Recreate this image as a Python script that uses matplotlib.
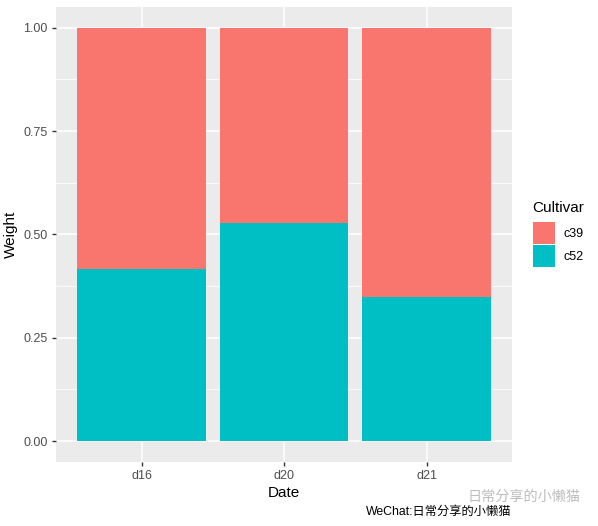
import numpy as np
import matplotlib.pyplot as plt
from matplotlib.patches import Rectangle

# ── Data ─────────────────────────────────────────────
dates = ['d16', 'd20', 'd21']
cultivars = ['c39', 'c52']
c52_weight = [0.417, 0.528, 0.349]
c39_weight = [1 - v for v in c52_weight]
colors = {'c39': '#F8766D', 'c52': '#00BFC4'}

plt.rcParams['font.family'] = ['Liberation Sans', 'Noto Sans CJK SC', 'DejaVu Sans']

W, H = 598, 526
fig = plt.figure(figsize=(W / 100, H / 100), dpi=100)
ax = fig.add_axes([56 / W, (H - 461.7) / H, 456 / W, 454.7 / H])

x = np.arange(1, len(dates) + 1)
ax.bar(x, c52_weight, width=0.9, color=colors['c52'], zorder=3)
ax.bar(x, c39_weight, width=0.9, bottom=c52_weight, color=colors['c39'], zorder=3)

# ── ggplot-like theme ────────────────────────────────
ax.set_facecolor('#EBEBEB')
for s in ax.spines.values():
    s.set_visible(False)
ax.set_xlim(0.4, 3.6)
ax.set_ylim(-0.05, 1.05)
ax.set_xticks(x)
ax.set_xticklabels(dates)
ax.set_yticks([0, 0.25, 0.5, 0.75, 1.0])
ax.set_yticklabels(['0.00', '0.25', '0.50', '0.75', '1.00'])
ax.set_yticks([0.125, 0.375, 0.625, 0.875], minor=True)
ax.tick_params(axis='both', which='major', length=3, width=1, color='#333333',
               labelcolor='#4D4D4D', labelsize=9, pad=3)
ax.tick_params(axis='y', which='minor', length=0)
ax.grid(which='major', color='white', linewidth=1.1, zorder=0)
ax.grid(which='minor', axis='y', color='white', linewidth=0.55, zorder=0)
ax.set_axisbelow(True)
ax.set_xlabel('Date', fontsize=11, labelpad=3)
ax.set_ylabel('Weight', fontsize=11, labelpad=4)

# ── Legend (drawn by hand, ggplot layout) ────────────
fig.text(532 / W, 1 - 208 / H, 'Cultivar', fontsize=11, va='center', ha='left')
key_top = 222
for i, c in enumerate(cultivars):
    top = key_top + i * 23
    fig.patches.append(Rectangle((533 / W, 1 - (top + 21.5) / H), 22 / W, 21.5 / H,
                                 transform=fig.transFigure, facecolor=colors[c],
                                 edgecolor='none'))
    fig.text(563 / W, 1 - (top + 12) / H, c, fontsize=9, va='center', ha='left')

# ── Watermarks ───────────────────────────────────────
fig.text(468 / W, 1 - 497 / H, '日常分享的小懒猫', fontsize=10.2, color='#BDBDBD',
         va='center', ha='left')
fig.text(439 / W, 1 - 512 / H, 'WeChat:日常分享的小懒猫', fontsize=8.8, color='black',
         va='center', ha='center')

fig.savefig('out.png', dpi=100)
